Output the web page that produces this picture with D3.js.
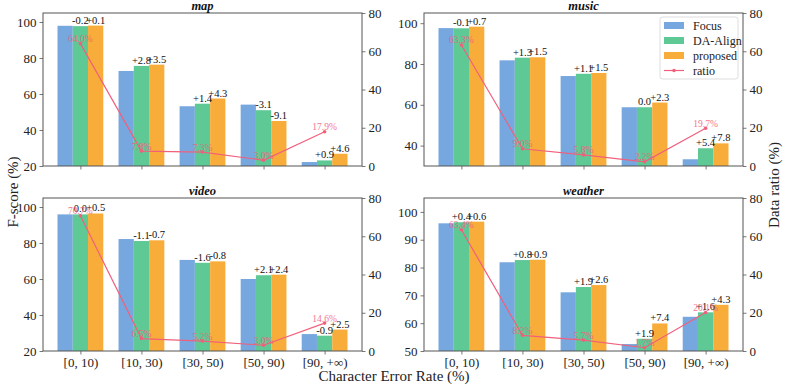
<!DOCTYPE html>
<html>
<head>
<meta charset="utf-8">
<script src="https://cdn.jsdelivr.net/npm/d3@7"></script>
<style>
  body { margin: 0; background: #fff; }
  svg text { font-family: "Liberation Serif", "Times New Roman", serif !important; }
</style>
</head>
<body>
<svg id="chart" width="789" height="386" font-family="Liberation Serif"></svg>
<script>
// data
const categories = ["[0, 10)", "[10, 30)", "[30, 50)", "[50, 90)", "[90, +\u221e)"];
const panelNames = ["map", "music", "video", "weather"];
const seriesNames = ["Focus", "DA-Align", "proposed"];

const focusScores = [
  [97.9, 72.8, 53.2, 54.1, 22.2],
  [97.6, 81.8, 74.1, 58.8, 33.3],
  [95.9, 82.2, 70.6, 60.0, 29.4],
  [95.9, 81.9, 71.1, 52.5, 62.3]
];
const daAlignDelta = [
  [-0.2, 2.8, 1.4, -3.1, 0.9],
  [-0.1, 1.3, 1.1, 0.0, 5.4],
  [0.0, -1.1, -1.6, 2.1, -0.9],
  [0.4, 0.8, 1.9, 1.9, 1.6]
];
const proposedDelta = [
  [0.1, 3.5, 4.3, -9.1, 4.6],
  [0.7, 1.5, 1.5, 2.3, 7.8],
  [0.5, -0.7, -0.8, 2.4, 2.5],
  [0.6, 0.9, 2.6, 7.4, 4.3]
];
const dataRatio = [
  [64.0, 7.8, 7.3, 3.0, 17.9],
  [63.3, 9.0, 5.8, 2.2, 19.7],
  [70.7, 6.5, 5.2, 3.0, 14.6],
  [63.4, 8.2, 5.7, 1.7, 20.1]
];
const yMinimum = [20, 30, 20, 50];
const yTicks = [
  [20, 40, 60, 80, 100],
  [40, 60, 80, 100],
  [20, 40, 60, 80, 100],
  [50, 60, 70, 80, 90, 100]
];
const ratioTicks = [0, 20, 40, 60, 80];

const colors = ["#77a7df", "#5fc996", "#f8ad3a"];
const ratioColor = "#f0607c";
const spineColor = "#555";
const serif = "Liberation Serif";

let svg = d3.select("#chart");

let pw = 319, ph = 153;
let origins = [[43, 13], [424, 13], [43, 198], [424, 198]];

let fmt = (v) => v > 0 ? "+" + v.toFixed(1) : v.toFixed(1);

panelNames.forEach((name, p) => {
  let g = svg.append("g")
    .attr("transform", "translate(" + origins[p][0] + "," + origins[p][1] + ")");

  let x = d3.scaleLinear().domain([-0.6125, 4.6125]).range([0, pw]);
  let y = d3.scaleLinear().domain([yMinimum[p], 105]).range([ph, 0]);
  let y2 = d3.scaleLinear().domain([0, 80]).range([ph, 0]);
  let bw = x(0.25) - x(0);

  let rows = categories.map((c, i) => {
    let f = focusScores[p][i];
    return {
      i: i,
      vals: [f, f + daAlignDelta[p][i], f + proposedDelta[p][i]],
      deltas: [null, daAlignDelta[p][i], proposedDelta[p][i]]
    };
  });

  let clip = "clip" + p;
  g.append("clipPath").attr("id", clip)
    .append("rect").attr("width", pw).attr("height", ph);

  let bars = g.append("g").attr("clip-path", "url(#" + clip + ")");
  rows.forEach((r) => {
    r.vals.forEach((v, s) => {
      let cx = x(r.i + (s - 1) * 0.25);
      bars.append("rect")
        .attr("x", cx - bw / 2)
        .attr("y", y(v))
        .attr("width", bw)
        .attr("height", ph - y(v))
        .attr("fill", colors[s]);
    });
  });

  // bar delta labels
  rows.forEach((r) => {
    [1, 2].forEach((s) => {
      g.append("text")
        .attr("x", x(r.i + (s - 1) * 0.25))
        .attr("y", y(r.vals[s]) - 2)
        .attr("text-anchor", "middle")
        .attr("font-family", serif)
        .attr("font-size", 10.5)
        .attr("fill", "#111")
        .text(fmt(r.deltas[s]));
    });
  });

  // ratio line
  let line = d3.line()
    .x((d, i) => x(i))
    .y((d) => y2(d));
  g.append("path")
    .datum(dataRatio[p])
    .attr("d", line)
    .attr("fill", "none")
    .attr("stroke", ratioColor)
    .attr("stroke-width", 1.2);
  g.selectAll(".pt")
    .data(dataRatio[p])
    .enter()
    .append("circle")
    .attr("cx", (d, i) => x(i))
    .attr("cy", (d) => y2(d))
    .attr("r", 1.8)
    .attr("fill", ratioColor);
  g.selectAll(".rl")
    .data(dataRatio[p])
    .enter()
    .append("text")
    .attr("x", (d, i) => x(i))
    .attr("y", (d) => y2(d) - 1.5)
    .attr("text-anchor", "middle")
    .attr("font-family", serif)
    .attr("font-size", 9.5)
    .attr("fill", ratioColor)
    .attr("opacity", 0.85)
    .text((d) => d.toFixed(1) + "%");

  // axes
  let left = g.append("g")
    .call(d3.axisLeft(y).tickValues(yTicks[p]).tickSize(3.5).tickPadding(3));
  let right = g.append("g")
    .attr("transform", "translate(" + pw + ",0)")
    .call(d3.axisRight(y2).tickValues(ratioTicks).tickSize(3.5).tickPadding(3));
  let bottom = g.append("g")
    .attr("transform", "translate(0," + ph + ")")
    .call(d3.axisBottom(x).tickValues([0, 1, 2, 3, 4])
      .tickFormat((d) => p >= 2 ? categories[d] : "")
      .tickSize(3.5).tickPadding(3));
  [left, right, bottom].forEach((a) => {
    a.attr("font-family", serif);
    a.select(".domain").remove();
    a.selectAll("line").attr("stroke", spineColor).attr("stroke-width", 0.8);
    a.selectAll("text")
      .attr("font-size", 13)
      .attr("fill", "#222")
      .attr("font-family", serif);
  });

  g.append("rect")
    .attr("width", pw)
    .attr("height", ph)
    .attr("fill", "none")
    .attr("stroke", spineColor)
    .attr("stroke-width", 1);

  g.append("text")
    .attr("x", pw / 2)
    .attr("y", -3)
    .attr("text-anchor", "middle")
    .attr("font-family", serif)
    .attr("font-size", 12.5)
    .attr("font-weight", "bold")
    .attr("font-style", "italic")
    .attr("fill", "#111")
    .text(name);

  // legend in music panel
  if (p === 1) {
    let lg = g.append("g").attr("transform", "translate(" + (660 - 424) + "," + (17 - 13) + ")");
    lg.append("rect")
      .attr("width", 78).attr("height", 62)
      .attr("rx", 2.5)
      .attr("fill", "#fff").attr("fill-opacity", 0.85)
      .attr("stroke", "#ddd");
    seriesNames.forEach((s, k) => {
      lg.append("rect")
        .attr("x", 4).attr("y", 5 + k * 15)
        .attr("width", 20).attr("height", 7)
        .attr("fill", colors[k]);
      lg.append("text")
        .attr("x", 33).attr("y", 12.5 + k * 15)
        .attr("font-family", serif)
        .attr("font-size", 12).attr("fill", "#222")
        .text(s);
    });
    lg.append("line")
      .attr("x1", 4).attr("x2", 24)
      .attr("y1", 53.5).attr("y2", 53.5)
      .attr("stroke", ratioColor).attr("stroke-width", 1.2);
    lg.append("circle")
      .attr("cx", 14).attr("cy", 53.5).attr("r", 1.8)
      .attr("fill", ratioColor);
    lg.append("text")
      .attr("x", 33).attr("y", 57.5)
      .attr("font-family", serif)
      .attr("font-size", 12).attr("fill", "#222")
      .text("ratio");
  }
});

svg.append("text")
  .attr("text-anchor", "middle")
  .attr("transform", "translate(18,192)rotate(-90)")
  .attr("font-family", serif)
  .attr("font-size", 15)
  .attr("fill", "#222")
  .text("F-score (%)");

svg.append("text")
  .attr("text-anchor", "middle")
  .attr("transform", "translate(779,185)rotate(-90)")
  .attr("font-family", serif)
  .attr("font-size", 15)
  .attr("fill", "#222")
  .text("Data ratio (%)");

svg.append("text")
  .attr("text-anchor", "middle")
  .attr("x", 394)
  .attr("y", 381)
  .attr("font-family", serif)
  .attr("font-size", 15)
  .attr("fill", "#222")
  .text("Character Error Rate (%)");
</script>
</body>
</html>
